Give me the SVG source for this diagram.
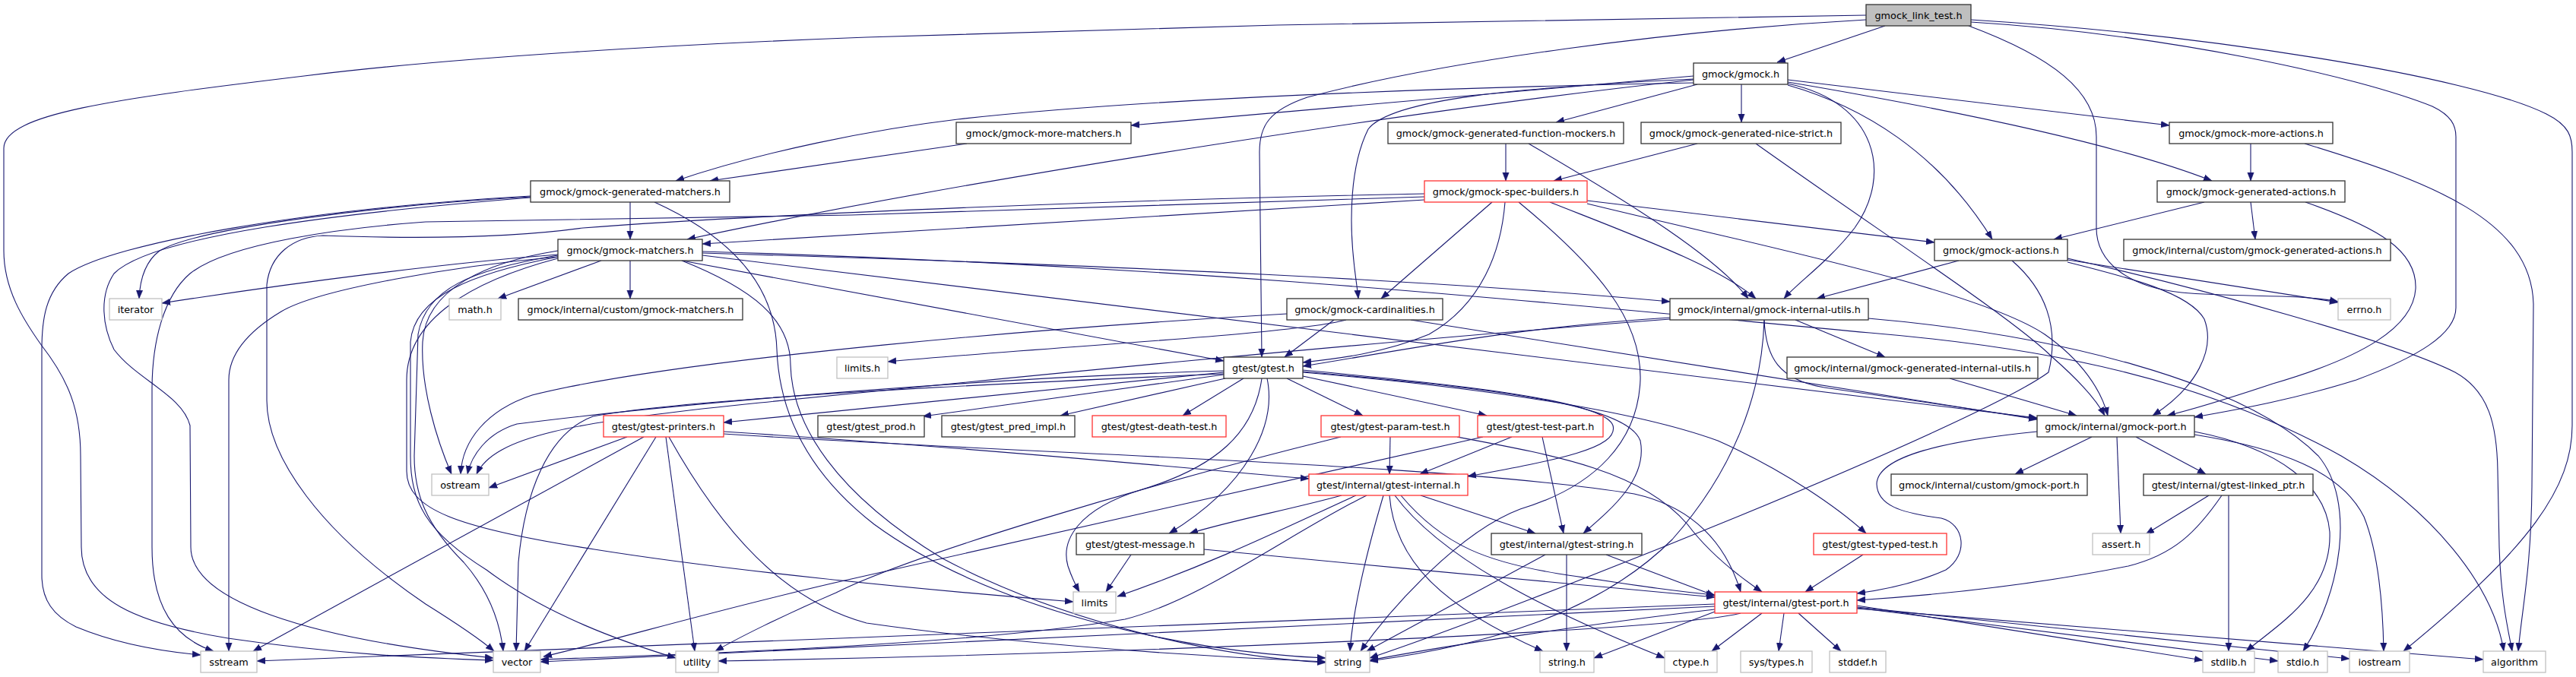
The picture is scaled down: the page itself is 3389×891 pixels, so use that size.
<svg xmlns="http://www.w3.org/2000/svg" width="3389" height="891" viewBox="0 0 3389 891">
<style>
.bg{fill:#fff}
.n rect{fill:#fff;stroke:#333;stroke-width:1.3}
.r rect{fill:#fff;stroke:#f33;stroke-width:1.3}
.g rect{fill:#fff;stroke:#c0c0c0;stroke-width:1.3}
.root rect{fill:#bfbfbf;stroke:#333;stroke-width:1.3}
text{font-family:"DejaVu Sans","Liberation Sans",sans-serif;font-size:12.8px;fill:#000;text-anchor:middle}
.e path{fill:none;stroke:#191970;stroke-width:1.1;marker-end:url(#a)}
</style>
<defs>
<marker id="a" markerWidth="12" markerHeight="10" refX="11" refY="5" orient="auto" markerUnits="userSpaceOnUse"><path d="M0,0.8 L11,5 L0,9.2z" fill="#191970" stroke="#191970" stroke-width="0.5"/></marker>
</defs>
<rect class="bg" x="0" y="0" width="3389" height="891"/>
<g id="edges" class="e">
<path d="M2480,34 L2338,82"/>
<path d="M2455,26 C2200,40 1900,80 1720,128 C1670,145 1657,165 1657,200 L1660,470"/>
<path d="M2455,20 L1680,33 L1140,49 C900,58 600,75 400,100 C150,130 5,150 5,195 L5,330 C5,380 30,420 55,455 C90,500 106,540 106,600 L107,720 C107,790 180,820 300,840 C450,862 560,866 649,869"/>
<path d="M2593,29 C2850,45 3100,100 3200,140 C3225,152 3231,165 3231,180 L3231,405 C3231,440 3180,470 3100,500 C3020,525 2950,538 2887,549"/>
<path d="M2593,26 C2900,45 3250,100 3350,150 C3380,165 3384,180 3384,200 L3384,560 C3384,640 3330,720 3162,857"/>
<path d="M2590,34 C2700,75 2758,120 2758,180 L2758,300 C2758,345 2800,378 2870,385 C2950,392 3020,386 3076,397"/>
<path d="M2291,111 L2291,161"/>
<path d="M2233,111 L2047,161"/>
<path d="M2228,100 L1488,165"/>
<path d="M2228,109 C1900,115 1500,130 1260,157 C1150,170 1000,200 889,238"/>
<path d="M2228,105 C1900,140 1300,230 904,315"/>
<path d="M2228,104 C2000,115 1830,130 1800,170 C1785,200 1778,240 1778,290 C1778,340 1785,370 1787,393"/>
<path d="M2352,110 C2470,135 2490,230 2440,300 C2405,345 2365,372 2347,393"/>
<path d="M2352,112 C2450,140 2550,200 2621,315"/>
<path d="M2352,108 C2600,150 2800,195 2910,238"/>
<path d="M2352,105 L2854,165"/>
<path d="M1272,189 L934,238"/>
<path d="M1981,189 L1981,238"/>
<path d="M2011,189 C2150,270 2260,340 2300,393"/>
<path d="M2233,189 L2044,238"/>
<path d="M2310,189 C2480,310 2650,420 2700,470 C2740,505 2760,530 2769,547"/>
<path d="M2961,189 L2961,238"/>
<path d="M3032,189 C3200,240 3330,290 3333,400 L3331,640 C3330,750 3318,800 3313,857"/>
<path d="M829,266 L829,315"/>
<path d="M861,266 C980,320 1020,390 1022,460 C1025,540 1060,620 1150,690 C1300,800 1550,858 1744,866"/>
<path d="M698,259 C500,270 260,300 210,330 C190,345 184,370 183,393"/>
<path d="M698,258 C400,275 150,320 90,360 C60,385 55,420 55,460 L55,757 C55,790 70,810 100,825 C160,850 220,858 264,862"/>
<path d="M698,260 C450,280 200,310 150,360 C130,390 135,430 150,460 C180,500 240,520 250,560 L251,720 C251,790 400,840 649,866"/>
<path d="M1874,259 L1120,283 L560,292 C450,300 300,320 250,360 C215,390 200,450 200,513 L200,720 C200,800 230,840 281,857"/>
<path d="M1874,255 C1500,262 1000,282 767,300 C680,312 560,315 425,310 C385,312 355,335 351,375 L351,527 C351,600 420,700 560,795 C600,820 630,840 650,857"/>
<path d="M1874,263 C1600,280 1300,300 924,321"/>
<path d="M1963,266 L1817,393"/>
<path d="M1980,266 C1975,330 1950,400 1880,440 C1820,465 1760,472 1714,477"/>
<path d="M1998,266 C2100,350 2160,420 2158,500 C2155,580 2100,640 2000,670 C1920,700 1830,800 1790,857"/>
<path d="M2039,266 C2150,310 2260,350 2310,393"/>
<path d="M2088,268 C2300,320 2600,380 2690,440 C2740,475 2765,515 2773,547"/>
<path d="M2088,264 L2545,319"/>
<path d="M2900,266 L2702,315"/>
<path d="M2961,266 L2967,315"/>
<path d="M3033,266 C3130,300 3180,330 3178,380 C3175,430 3110,470 2990,505 C2930,525 2880,540 2851,547"/>
<path d="M791,343 L655,393"/>
<path d="M829,343 L829,393"/>
<path d="M734,335 C600,345 400,370 213,399"/>
<path d="M734,338 C600,350 420,380 370,410 C320,440 301,470 301,500 L301,857"/>
<path d="M734,330 C640,345 560,380 556,450 C553,510 575,580 594,624"/>
<path d="M734,336 C620,355 560,380 550,440 L545,600 C545,650 560,690 610,740 C645,780 658,820 662,857"/>
<path d="M734,338 C620,360 545,390 540,450 L540,600 C540,660 560,700 640,750 C720,810 820,845 889,866"/>
<path d="M734,340 C620,370 535,420 535,500 L535,620 C535,670 600,695 782,723 C950,750 1200,775 1412,792"/>
<path d="M897,343 C990,380 1040,420 1040,480 C1042,560 1100,650 1240,735 C1400,820 1600,864 1744,872"/>
<path d="M924,331 C1600,350 2100,405 2460,438 C2700,458 2900,500 3080,600 C3200,670 3280,770 3294,857"/>
<path d="M924,333 C1500,350 1900,370 2197,397"/>
<path d="M924,336 L2680,550"/>
<path d="M897,343 L1610,475"/>
<path d="M2577,343 L2390,393"/>
<path d="M2720,342 L3076,398"/>
<path d="M2720,345 C2800,365 2880,385 2900,420 C2915,460 2890,510 2832,547"/>
<path d="M2720,340 C2900,380 3150,450 3230,490 C3275,515 3285,560 3286,620 L3288,720 C3290,790 3300,830 3305,857"/>
<path d="M2647,343 C2690,380 2710,430 2695,490 C2600,560 2000,800 1802,866"/>
<path d="M1771,421 C1700,440 1400,455 1168,476"/>
<path d="M1693,413 C1400,430 900,470 700,520 C640,540 608,580 606,624"/>
<path d="M1856,421 L2680,552"/>
<path d="M1755,421 L1690,470"/>
<path d="M2197,418 C2000,430 1850,460 1714,482"/>
<path d="M2197,420 C1800,450 1300,500 1000,530 C750,555 650,575 627,624"/>
<path d="M2362,421 L2480,470"/>
<path d="M2321,421 C2323,470 2340,500 2400,510 C2500,525 2600,540 2680,551"/>
<path d="M2321,421 C2318,520 2280,620 2200,710 C2100,810 1950,850 1802,870"/>
<path d="M2458,419 C2700,440 2950,500 3050,600 C3100,660 3080,780 3030,857"/>
<path d="M2565,498 L2732,547"/>
<path d="M2752,575 L2651,624"/>
<path d="M2785,575 L2790,702"/>
<path d="M2810,575 L2902,624"/>
<path d="M2680,568 C2560,580 2470,600 2469,637 C2470,665 2500,675 2554,682 C2585,690 2590,730 2560,750 C2520,768 2480,776 2443,781"/>
<path d="M2887,568 C3000,590 3060,640 3065,700 C3068,780 3000,820 2955,857"/>
<path d="M2887,572 C3000,590 3080,620 3110,680 C3130,730 3135,800 3136,857"/>
<path d="M2906,652 L2823,703"/>
<path d="M2932,652 L2932,857"/>
<path d="M2923,652 C2890,700 2860,730 2800,745 C2650,775 2520,785 2443,790"/>
<path d="M2256,795 L338,870"/>
<path d="M2256,798 L711,871"/>
<path d="M2290,807 C2200,830 1500,860 945,870"/>
<path d="M2256,802 C2100,820 1900,850 1802,869"/>
<path d="M2256,805 L2097,866"/>
<path d="M2318,807 L2252,857"/>
<path d="M2347,807 L2340,857"/>
<path d="M2366,807 L2422,857"/>
<path d="M2443,797 L2898,869"/>
<path d="M2443,800 L2997,870"/>
<path d="M2443,799 L3091,867"/>
<path d="M2443,801 L3267,868"/>
<path d="M1765,652 C1700,670 1620,685 1565,702"/>
<path d="M1784,652 C1700,690 1600,740 1470,785"/>
<path d="M1798,652 C1700,700 1580,790 1480,815 C1300,845 1000,858 711,868"/>
<path d="M1820,652 C1800,720 1780,800 1776,857"/>
<path d="M1828,652 C1835,740 1900,800 2030,857"/>
<path d="M1835,652 C1900,740 2050,810 2190,866"/>
<path d="M1843,652 C1900,720 1960,740 2050,755 C2150,770 2200,778 2256,783"/>
<path d="M1869,652 L2020,702"/>
<path d="M2033,730 L1798,857"/>
<path d="M2061,730 L2061,857"/>
<path d="M2113,730 L2256,784"/>
<path d="M1488,730 L1455,779"/>
<path d="M1584,723 C1800,745 2100,770 2256,786"/>
<path d="M2451,730 L2375,779"/>
<path d="M1829,575 L1828,624"/>
<path d="M1917,575 C2050,600 2160,620 2220,690 C2250,730 2290,760 2318,779"/>
<path d="M1764,575 C1500,640 1200,730 1100,780 C1030,810 970,840 941,857"/>
<path d="M1989,575 L1868,624"/>
<path d="M2029,575 L2057,702"/>
<path d="M1951,575 C1800,610 1300,720 1120,762 C950,800 800,845 715,864"/>
<path d="M825,575 L643,642"/>
<path d="M847,575 L333,857"/>
<path d="M863,575 L690,857"/>
<path d="M876,575 L914,857"/>
<path d="M880,575 C950,700 1030,790 1140,820 C1350,850 1600,865 1744,871"/>
<path d="M952,568 C1300,590 1600,620 1722,630"/>
<path d="M952,571 C1400,600 1900,610 2150,650 C2240,670 2275,730 2290,779"/>
<path d="M1610,488 C1300,497 900,530 680,558 C640,570 620,600 615,624"/>
<path d="M1610,492 C1300,505 900,525 780,548 C720,570 690,650 682,740 L679,857"/>
<path d="M1660,498 C1650,570 1600,615 1500,645 C1420,670 1395,710 1405,745 C1410,760 1415,770 1420,779"/>
<path d="M1610,490 L952,556"/>
<path d="M1610,493 L1214,548"/>
<path d="M1612,498 L1395,547"/>
<path d="M1636,498 L1556,547"/>
<path d="M1693,498 L1793,547"/>
<path d="M1714,495 L1956,547"/>
<path d="M1667,498 C1680,560 1640,640 1538,702"/>
<path d="M1714,487 C1900,505 2110,525 2122,560 C2130,590 2050,605 1931,627"/>
<path d="M1714,489 C1950,510 2140,530 2158,580 C2168,630 2120,670 2083,702"/>
<path d="M1714,490 C1950,510 2150,540 2260,580 C2350,620 2420,670 2455,702"/>
</g>
<g id="n0" class="root"><rect x="2455" y="6" width="138" height="28"/><text x="2524" y="24.5">gmock_link_test.h</text></g>
<g id="n1" class="n"><rect x="2228" y="83" width="124" height="28"/><text x="2290" y="101.5">gmock/gmock.h</text></g>
<g id="n2" class="n"><rect x="1258" y="161" width="230" height="28"/><text x="1373" y="179.5">gmock/gmock-more-matchers.h</text></g>
<g id="n3" class="n"><rect x="1826" y="161" width="310" height="28"/><text x="1981" y="179.5">gmock/gmock-generated-function-mockers.h</text></g>
<g id="n4" class="n"><rect x="2159" y="161" width="263" height="28"/><text x="2290.5" y="179.5">gmock/gmock-generated-nice-strict.h</text></g>
<g id="n5" class="n"><rect x="2854" y="161" width="215" height="28"/><text x="2961.5" y="179.5">gmock/gmock-more-actions.h</text></g>
<g id="n6" class="n"><rect x="698" y="238" width="262" height="28"/><text x="829" y="256.5">gmock/gmock-generated-matchers.h</text></g>
<g id="n7" class="r"><rect x="1874" y="238" width="214" height="28"/><text x="1981" y="256.5">gmock/gmock-spec-builders.h</text></g>
<g id="n8" class="n"><rect x="2838" y="238" width="247" height="28"/><text x="2961.5" y="256.5">gmock/gmock-generated-actions.h</text></g>
<g id="n9" class="n"><rect x="734" y="315" width="190" height="28"/><text x="829" y="333.5">gmock/gmock-matchers.h</text></g>
<g id="n10" class="n"><rect x="2545" y="315" width="175" height="28"/><text x="2632.5" y="333.5">gmock/gmock-actions.h</text></g>
<g id="n11" class="n"><rect x="2794" y="315" width="351" height="28"/><text x="2969.5" y="333.5">gmock/internal/custom/gmock-generated-actions.h</text></g>
<g id="n12" class="g"><rect x="144" y="393" width="69" height="28"/><text x="178.5" y="411.5">iterator</text></g>
<g id="n13" class="g"><rect x="591" y="393" width="68" height="28"/><text x="625" y="411.5">math.h</text></g>
<g id="n14" class="n"><rect x="682" y="393" width="295" height="28"/><text x="829.5" y="411.5">gmock/internal/custom/gmock-matchers.h</text></g>
<g id="n15" class="n"><rect x="1693" y="393" width="205" height="28"/><text x="1795.5" y="411.5">gmock/gmock-cardinalities.h</text></g>
<g id="n16" class="n"><rect x="2197" y="393" width="261" height="28"/><text x="2327.5" y="411.5">gmock/internal/gmock-internal-utils.h</text></g>
<g id="n17" class="g"><rect x="3076" y="393" width="69" height="28"/><text x="3110.5" y="411.5">errno.h</text></g>
<g id="n18" class="g"><rect x="1101" y="470" width="67" height="28"/><text x="1134.5" y="488.5">limits.h</text></g>
<g id="n19" class="n"><rect x="1610" y="470" width="104" height="28"/><text x="1662" y="488.5">gtest/gtest.h</text></g>
<g id="n20" class="n"><rect x="2351" y="470" width="330" height="28"/><text x="2516" y="488.5">gmock/internal/gmock-generated-internal-utils.h</text></g>
<g id="n21" class="r"><rect x="794" y="547" width="158" height="28"/><text x="873" y="565.5">gtest/gtest-printers.h</text></g>
<g id="n22" class="n"><rect x="1076" y="547" width="140" height="28"/><text x="1146" y="565.5">gtest/gtest_prod.h</text></g>
<g id="n23" class="n"><rect x="1239" y="547" width="175" height="28"/><text x="1326.5" y="565.5">gtest/gtest_pred_impl.h</text></g>
<g id="n24" class="r"><rect x="1437" y="547" width="176" height="28"/><text x="1525" y="565.5">gtest/gtest-death-test.h</text></g>
<g id="n25" class="r"><rect x="1738" y="547" width="182" height="28"/><text x="1829" y="565.5">gtest/gtest-param-test.h</text></g>
<g id="n26" class="r"><rect x="1944" y="547" width="165" height="28"/><text x="2026.5" y="565.5">gtest/gtest-test-part.h</text></g>
<g id="n27" class="n"><rect x="2680" y="547" width="207" height="28"/><text x="2783.5" y="565.5">gmock/internal/gmock-port.h</text></g>
<g id="n28" class="g"><rect x="568" y="624" width="75" height="28"/><text x="605.5" y="642.5">ostream</text></g>
<g id="n29" class="r"><rect x="1722" y="624" width="209" height="28"/><text x="1826.5" y="642.5">gtest/internal/gtest-internal.h</text></g>
<g id="n30" class="n"><rect x="2488" y="624" width="258" height="28"/><text x="2617" y="642.5">gmock/internal/custom/gmock-port.h</text></g>
<g id="n31" class="n"><rect x="2820" y="624" width="223" height="28"/><text x="2931.5" y="642.5">gtest/internal/gtest-linked_ptr.h</text></g>
<g id="n32" class="n"><rect x="1416" y="702" width="168" height="28"/><text x="1500" y="720.5">gtest/gtest-message.h</text></g>
<g id="n33" class="n"><rect x="1962" y="702" width="198" height="28"/><text x="2061" y="720.5">gtest/internal/gtest-string.h</text></g>
<g id="n34" class="r"><rect x="2386" y="702" width="175" height="28"/><text x="2473.5" y="720.5">gtest/gtest-typed-test.h</text></g>
<g id="n35" class="g"><rect x="2753" y="702" width="75" height="28"/><text x="2790.5" y="720.5">assert.h</text></g>
<g id="n36" class="g"><rect x="1412" y="779" width="56" height="28"/><text x="1440" y="797.5">limits</text></g>
<g id="n37" class="r"><rect x="2256" y="779" width="187" height="28"/><text x="2349.5" y="797.5">gtest/internal/gtest-port.h</text></g>
<g id="n38" class="g"><rect x="264" y="857" width="74" height="28"/><text x="301" y="875.5">sstream</text></g>
<g id="n39" class="g"><rect x="649" y="857" width="62" height="28"/><text x="680" y="875.5">vector</text></g>
<g id="n40" class="g"><rect x="889" y="857" width="56" height="28"/><text x="917" y="875.5">utility</text></g>
<g id="n41" class="g"><rect x="1744" y="857" width="58" height="28"/><text x="1773" y="875.5">string</text></g>
<g id="n42" class="g"><rect x="2026" y="857" width="71" height="28"/><text x="2061.5" y="875.5">string.h</text></g>
<g id="n43" class="g"><rect x="2190" y="857" width="69" height="28"/><text x="2224.5" y="875.5">ctype.h</text></g>
<g id="n44" class="g"><rect x="2290" y="857" width="94" height="28"/><text x="2337" y="875.5">sys/types.h</text></g>
<g id="n45" class="g"><rect x="2407" y="857" width="74" height="28"/><text x="2444" y="875.5">stddef.h</text></g>
<g id="n46" class="g"><rect x="2898" y="857" width="68" height="28"/><text x="2932" y="875.5">stdlib.h</text></g>
<g id="n47" class="g"><rect x="2997" y="857" width="65" height="28"/><text x="3029.5" y="875.5">stdio.h</text></g>
<g id="n48" class="g"><rect x="3091" y="857" width="79" height="28"/><text x="3130.5" y="875.5">iostream</text></g>
<g id="n49" class="g"><rect x="3267" y="857" width="82" height="28"/><text x="3308" y="875.5">algorithm</text></g>
</svg>
